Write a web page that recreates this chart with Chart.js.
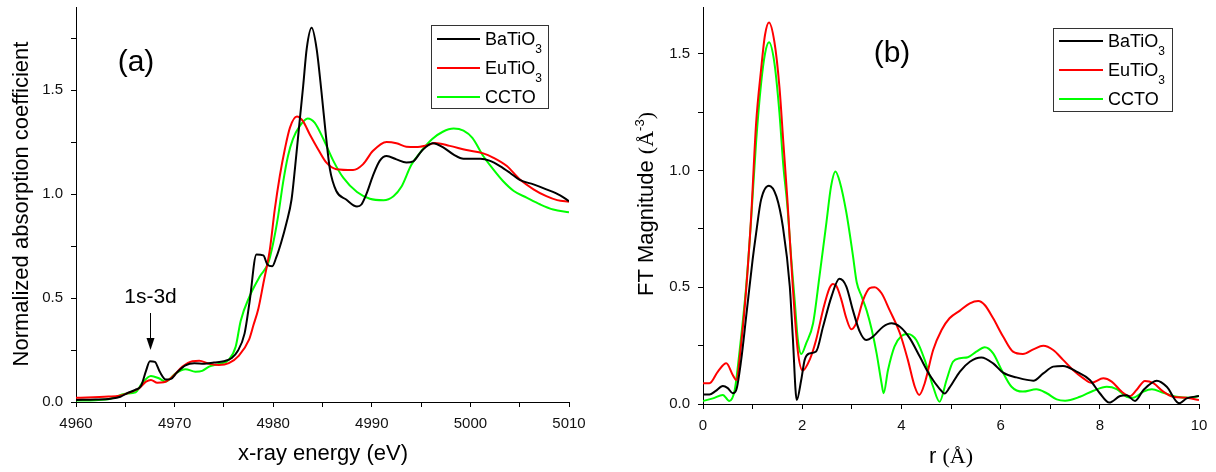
<!DOCTYPE html>
<html>
<head>
<meta charset="utf-8">
<script src="https://cdn.jsdelivr.net/npm/chart.js@4.4.1/dist/chart.umd.min.js"></script>
<style>
  html, body { margin: 0; padding: 0; background: #fff; }
  #wrap { position: relative; width: 1216px; height: 472px; overflow: hidden; }
  .panel { position: absolute; top: 0; }
  #chart-a { left: 0; }
  #chart-b { left: 608px; }
</style>
</head>
<body>
<div id="wrap">
  <canvas id="chart-a" class="panel" width="608" height="472"></canvas>
  <canvas id="chart-b" class="panel" width="608" height="472"></canvas>
</div>
<script>
// (a) XANES, energy in eV
const xanesBaE = [4960, 4962, 4963.5, 4964.5, 4965.2, 4966, 4966.6, 4967.1, 4967.5, 4968, 4968.5, 4969.1, 4969.6, 4970.2, 4971.1, 4972, 4973, 4974, 4975, 4975.8, 4976.4, 4977.1, 4977.6, 4978.3, 4979, 4979.4, 4979.9, 4980.3, 4980.8, 4981.35, 4981.86, 4982.2, 4982.7, 4983.04, 4983.4, 4983.9, 4984.4, 4984.9, 4985.35, 4985.75, 4986.4, 4987.4, 4988.5, 4988.95, 4989.5, 4990.1, 4990.8, 4991.5, 4992.5, 4993.5, 4994.2, 4995.1, 4996.2, 4997.2, 4998.3, 4999.3, 5001, 5002, 5003, 5004, 5005, 5006.4, 5007.7, 5009.1, 5010];
const xanesBa = [0.010, 0.012, 0.016, 0.025, 0.043, 0.058, 0.078, 0.150, 0.196, 0.193, 0.145, 0.108, 0.110, 0.140, 0.176, 0.186, 0.184, 0.190, 0.196, 0.212, 0.245, 0.330, 0.480, 0.709, 0.705, 0.662, 0.653, 0.694, 0.766, 0.862, 0.974, 1.12, 1.36, 1.52, 1.70, 1.80, 1.70, 1.49, 1.28, 1.12, 1.015, 0.974, 0.940, 0.950, 1.006, 1.087, 1.160, 1.183, 1.167, 1.152, 1.158, 1.210, 1.245, 1.226, 1.190, 1.170, 1.170, 1.160, 1.135, 1.103, 1.068, 1.047, 1.023, 0.994, 0.966];

const xanesEuE = [4960, 4963.3, 4964.4, 4965.4, 4966.4, 4967.1, 4967.6, 4968.25, 4968.9, 4969.8, 4970.8, 4971.8, 4972.5, 4973.5, 4974.5, 4975.5, 4976.5, 4977.55, 4978, 4978.5, 4979, 4979.66, 4980.16, 4980.67, 4981.18, 4981.7, 4982.4, 4983, 4983.7, 4984.55, 4985.4, 4986.4, 4988.1, 4989.1, 4990.1, 4991.5, 4992.5, 4993.5, 4994.5, 4995.6, 4996.4, 4997.9, 4999.6, 5001.3, 5002.3, 5003.7, 5005, 5006.4, 5007.7, 5008.8, 5010];
const xanesEu = [0.020, 0.026, 0.030, 0.045, 0.066, 0.098, 0.106, 0.093, 0.095, 0.122, 0.170, 0.196, 0.198, 0.184, 0.178, 0.187, 0.222, 0.300, 0.370, 0.450, 0.570, 0.733, 0.926, 1.087, 1.216, 1.320, 1.373, 1.352, 1.288, 1.216, 1.151, 1.120, 1.116, 1.143, 1.207, 1.251, 1.245, 1.228, 1.226, 1.235, 1.246, 1.232, 1.212, 1.196, 1.176, 1.135, 1.071, 1.023, 0.990, 0.971, 0.963];

const xanesCcE = [4960, 4962, 4963.5, 4965, 4966.05, 4966.7, 4967.6, 4968.4, 4969.1, 4970.1, 4971.1, 4972.1, 4972.8, 4973.5, 4974.5, 4975.5, 4976.2, 4976.7, 4977.6, 4978.64, 4979.5, 4980, 4980.5, 4981, 4981.5, 4982, 4982.7, 4983.5, 4984.2, 4985.1, 4986.1, 4987.1, 4988.5, 4989.8, 4991.2, 4992.2, 4993, 4994, 4994.9, 4996.1, 4997.2, 4998.3, 4999.3, 5000.2, 5001.3, 5002.3, 5003.3, 5004.4, 5005.7, 5007.1, 5008.4, 5010];
const xanesCc = [0.007, 0.009, 0.016, 0.040, 0.047, 0.090, 0.125, 0.114, 0.098, 0.138, 0.158, 0.146, 0.150, 0.170, 0.183, 0.203, 0.267, 0.390, 0.508, 0.604, 0.669, 0.765, 0.894, 1.055, 1.183, 1.264, 1.328, 1.364, 1.344, 1.264, 1.160, 1.079, 1.010, 0.978, 0.971, 0.990, 1.035, 1.140, 1.200, 1.264, 1.300, 1.315, 1.305, 1.270, 1.183, 1.120, 1.063, 1.015, 0.983, 0.950, 0.926, 0.913];

// (b) Fourier transform, r in Angstrom
const ftBaR = [0, 0.13, 0.25, 0.4, 0.5, 0.6, 0.67, 0.77, 0.87, 1.0, 1.07, 1.17, 1.33, 1.48, 1.61, 1.75, 1.81, 1.89, 1.98, 2.05, 2.15, 2.28, 2.42, 2.59, 2.75, 2.89, 3.02, 3.16, 3.29, 3.43, 3.63, 3.8, 3.97, 4.17, 4.37, 4.57, 4.77, 4.87, 4.97, 5.18, 5.38, 5.61, 5.85, 6.05, 6.32, 6.66, 6.86, 7.06, 7.26, 7.53, 7.8, 8.0, 8.19, 8.41, 8.54, 8.71, 8.88, 9.15, 9.35, 9.6, 9.75, 10];
const ftBa = [0.041, 0.041, 0.055, 0.077, 0.068, 0.046, 0.060, 0.189, 0.374, 0.617, 0.730, 0.874, 0.935, 0.889, 0.760, 0.503, 0.288, 0.017, 0.103, 0.189, 0.217, 0.225, 0.331, 0.460, 0.536, 0.503, 0.403, 0.310, 0.274, 0.289, 0.331, 0.346, 0.331, 0.281, 0.203, 0.124, 0.065, 0.045, 0.070, 0.139, 0.181, 0.199, 0.174, 0.134, 0.114, 0.100, 0.131, 0.160, 0.163, 0.139, 0.103, 0.046, 0.006, 0.034, 0.037, 0.013, 0.060, 0.100, 0.074, 0.003, 0.024, 0.034];

const ftEuR = [0, 0.13, 0.3, 0.47, 0.6, 0.67, 0.77, 0.87, 0.97, 1.07, 1.17, 1.25, 1.33, 1.44, 1.54, 1.62, 1.7, 1.81, 1.91, 2.01, 2.15, 2.28, 2.42, 2.55, 2.62, 2.69, 2.79, 2.89, 2.99, 3.09, 3.23, 3.36, 3.46, 3.6, 3.76, 3.97, 4.13, 4.27, 4.36, 4.47, 4.64, 4.81, 4.97, 5.18, 5.38, 5.55, 5.68, 5.85, 6.05, 6.25, 6.45, 6.66, 6.86, 7.06, 7.26, 7.46, 7.67, 7.83, 8.07, 8.24, 8.44, 8.61, 8.74, 8.91, 9.08, 9.28, 9.48, 9.75, 10];
const ftEu = [0.089, 0.089, 0.139, 0.174, 0.124, 0.103, 0.260, 0.489, 0.800, 1.200, 1.430, 1.580, 1.634, 1.550, 1.360, 1.120, 0.880, 0.503, 0.230, 0.143, 0.189, 0.274, 0.403, 0.496, 0.514, 0.505, 0.446, 0.367, 0.320, 0.346, 0.446, 0.496, 0.500, 0.474, 0.403, 0.303, 0.189, 0.074, 0.039, 0.089, 0.231, 0.317, 0.367, 0.400, 0.431, 0.441, 0.424, 0.367, 0.289, 0.224, 0.214, 0.234, 0.249, 0.231, 0.189, 0.146, 0.110, 0.091, 0.110, 0.096, 0.053, 0.034, 0.060, 0.099, 0.089, 0.053, 0.031, 0.027, 0.017];

const ftCcR = [0, 0.2, 0.4, 0.53, 0.64, 0.74, 0.87, 0.97, 1.07, 1.17, 1.25, 1.33, 1.44, 1.54, 1.62, 1.7, 1.78, 1.85, 1.91, 1.98, 2.08, 2.22, 2.35, 2.49, 2.58, 2.67, 2.76, 2.89, 3.02, 3.1, 3.2, 3.3, 3.4, 3.5, 3.6, 3.64, 3.73, 3.86, 4.0, 4.13, 4.3, 4.47, 4.64, 4.77, 4.91, 5.04, 5.18, 5.34, 5.51, 5.68, 5.85, 6.02, 6.22, 6.45, 6.72, 6.93, 7.13, 7.3, 7.6, 7.87, 8.14, 8.34, 8.54, 8.67, 8.88, 9.05, 9.28, 9.55, 9.82, 10];
const ftCc = [0.013, 0.024, 0.039, 0.013, 0.060, 0.231, 0.503, 0.789, 1.120, 1.370, 1.500, 1.549, 1.460, 1.250, 1.020, 0.850, 0.620, 0.440, 0.280, 0.214, 0.260, 0.346, 0.550, 0.780, 0.930, 0.996, 0.950, 0.820, 0.640, 0.520, 0.460, 0.400, 0.320, 0.217, 0.089, 0.046, 0.146, 0.246, 0.291, 0.300, 0.274, 0.189, 0.074, 0.010, 0.103, 0.181, 0.196, 0.200, 0.224, 0.243, 0.217, 0.146, 0.074, 0.053, 0.063, 0.046, 0.020, 0.014, 0.031, 0.057, 0.074, 0.064, 0.031, 0.027, 0.053, 0.063, 0.048, 0.031, 0.027, 0.034];

const legendBase = ['BaTiO', 'EuTiO', 'CCTO'];
const legendSub = ['3', '3', ''];
const seriesColors = ['#000000', '#ff0000', '#00ff00'];

const SANS = "'Liberation Sans', Arial, sans-serif";
const SERIF = "'Liberation Serif', 'Times New Roman', serif";
Chart.defaults.font.family = SANS;
Chart.defaults.color = '#111';

function pairs(xs, ys) {
  return xs.map((x, i) => ({ x: x, y: ys[i] }));
}

function onStep(v, step) {
  return Math.abs(v / step - Math.round(v / step)) < 1e-6;
}

function makeDataset(i, xs, ys) {
  return {
    label: legendBase[i] + legendSub[i],
    data: pairs(xs, ys),
    showLine: true,
    borderColor: seriesColors[i],
    backgroundColor: seriesColors[i],
    borderWidth: 2,
    pointRadius: 0,
    cubicInterpolationMode: 'monotone'
  };
}

// fixed axis size, and no extra room for the end labels
function fitTo(prop, px) {
  return s => {
    s[prop] = px;
    s.paddingTop = 0;
    s.paddingBottom = 0;
    s.paddingLeft = 0;
    s.paddingRight = 0;
  };
}

function makeAxis(min, max, step, labelStep, decimals, fit) {
  return {
    type: 'linear',
    min: min,
    max: max,
    afterBuildTicks: s => { s.ticks = s.ticks.filter(t => onStep(t.value, step)); },
    afterFit: fit,
    ticks: {
      stepSize: step,
      includeBounds: false,
      autoSkip: false,
      maxRotation: 0,
      padding: 8,
      color: '#111',
      font: { size: 15 },
      callback: v => onStep(v, labelStep) ? v.toFixed(decimals) : ''
    },
    grid: { drawOnChartArea: false, drawTicks: true, tickLength: 5, tickColor: '#000', tickWidth: 1 },
    border: { display: true, color: '#000', width: 1 }
  };
}

// text with a subscript / superscript, drawn left to right
function drawParts(ctx, parts, x, y) {
  let cx = x;
  for (const p of parts) {
    ctx.font = p.font;
    ctx.fillText(p.text, cx, y + (p.dy || 0));
    cx += ctx.measureText(p.text).width;
  }
}

function partsWidth(ctx, parts) {
  let w = 0;
  for (const p of parts) {
    ctx.font = p.font;
    w += ctx.measureText(p.text).width;
  }
  return w;
}

const panelDecor = {
  id: 'panelDecor',
  afterDraw(chart, args, o) {
    const ctx = chart.ctx;
    ctx.save();
    ctx.fillStyle = '#000';
    ctx.textBaseline = 'alphabetic';
    ctx.textAlign = 'left';

    // legend box
    const [bx, by, bw, bh] = o.box;
    ctx.strokeStyle = '#333';
    ctx.lineWidth = 1;
    ctx.strokeRect(bx + 0.5, by + 0.5, bw, bh);
    o.rows.forEach((ry, i) => {
      ctx.strokeStyle = seriesColors[i];
      ctx.lineWidth = 2;
      ctx.beginPath();
      ctx.moveTo(o.lineX[0], ry);
      ctx.lineTo(o.lineX[1], ry);
      ctx.stroke();
      const parts = [{ text: legendBase[i], font: '18px ' + SANS }];
      if (legendSub[i]) parts.push({ text: legendSub[i], font: '12px ' + SANS, dy: 8 });
      drawParts(ctx, parts, o.textX, ry + 6);
    });

    // panel letter
    ctx.textAlign = 'center';
    ctx.font = '30px ' + SANS;
    ctx.fillText(o.letter, o.letterPos[0], o.letterPos[1]);

    // x title
    ctx.textAlign = 'left';
    const xw = partsWidth(ctx, o.xTitle);
    drawParts(ctx, o.xTitle, o.xTitlePos[0] - xw / 2, o.xTitlePos[1]);

    // y title
    ctx.translate(o.yTitlePos[0], o.yTitlePos[1]);
    ctx.rotate(-Math.PI / 2);
    const yw = partsWidth(ctx, o.yTitle);
    drawParts(ctx, o.yTitle, -yw / 2, 0);
    ctx.restore();

    // arrow annotation
    if (o.arrow) {
      const ax = Math.round(chart.scales.x.getPixelForValue(o.arrow.at)) + 0.5;
      ctx.save();
      ctx.fillStyle = '#000';
      ctx.strokeStyle = '#000';
      ctx.font = '21px ' + SANS;
      ctx.textAlign = 'center';
      ctx.fillText(o.arrow.text, ax, o.arrow.textY);
      ctx.lineWidth = 1;
      ctx.beginPath();
      ctx.moveTo(ax, o.arrow.y0);
      ctx.lineTo(ax, o.arrow.y1 - 8);
      ctx.stroke();
      ctx.beginPath();
      ctx.moveTo(ax - 4, o.arrow.y1 - 12);
      ctx.lineTo(ax + 4, o.arrow.y1 - 12);
      ctx.lineTo(ax, o.arrow.y1);
      ctx.closePath();
      ctx.fill();
      ctx.restore();
    }
  }
};

new Chart(document.getElementById('chart-a'), {
  type: 'scatter',
  data: {
    datasets: [
      makeDataset(0, xanesBaE, xanesBa),
      makeDataset(1, xanesEuE, xanesEu),
      makeDataset(2, xanesCcE, xanesCc)
    ]
  },
  options: {
    responsive: false,
    animation: false,
    layout: { padding: { left: 0, right: 39, top: 7, bottom: 0 } },
    scales: {
      x: makeAxis(4960, 5010, 5, 10, 0, fitTo('height', 70)),
      y: makeAxis(0, 1.9, 0.25, 0.5, 1, fitTo('width', 76))
    },
    plugins: {
      legend: { display: false },
      tooltip: { enabled: false },
      panelDecor: {
        box: [431, 25, 117, 83],
        lineX: [437, 480],
        textX: 485,
        rows: [39, 68, 97],
        letter: '(a)',
        letterPos: [136, 71],
        xTitle: [{ text: 'x-ray energy (eV)', font: '22px ' + SANS }],
        xTitlePos: [323, 460],
        yTitle: [{ text: 'Normalized absorption coefficient', font: '22px ' + SANS }],
        yTitlePos: [28, 204],
        arrow: { at: 4967.5, text: '1s-3d', textY: 303, y0: 313, y1: 350 }
      }
    }
  },
  plugins: [panelDecor]
});

new Chart(document.getElementById('chart-b'), {
  type: 'scatter',
  data: {
    datasets: [
      makeDataset(0, ftBaR, ftBa),
      makeDataset(1, ftEuR, ftEu),
      makeDataset(2, ftCcR, ftCc)
    ]
  },
  options: {
    responsive: false,
    animation: false,
    layout: { padding: { left: 0, right: 17, top: 7, bottom: 0 } },
    scales: {
      x: makeAxis(0, 10, 1, 2, 0, fitTo('height', 68)),
      y: makeAxis(0, 1.7, 0.25, 0.5, 1, fitTo('width', 95))
    },
    plugins: {
      legend: { display: false },
      tooltip: { enabled: false },
      panelDecor: {
        box: [445, 28, 119, 83],
        lineX: [451, 495],
        textX: 500,
        rows: [41, 70, 99],
        letter: '(b)',
        letterPos: [284, 62],
        xTitle: [
          { text: 'r ', font: '22px ' + SANS },
          { text: '(Å)', font: '22px ' + SERIF }
        ],
        xTitlePos: [343, 463],
        yTitle: [
          { text: 'FT Magnitude ', font: '22px ' + SANS },
          { text: '(Å', font: '22px ' + SERIF },
          { text: '-3', font: '13px ' + SANS, dy: -9 },
          { text: ')', font: '22px ' + SERIF }
        ],
        yTitlePos: [45, 204]
      }
    }
  },
  plugins: [panelDecor]
});
</script>
</body>
</html>
